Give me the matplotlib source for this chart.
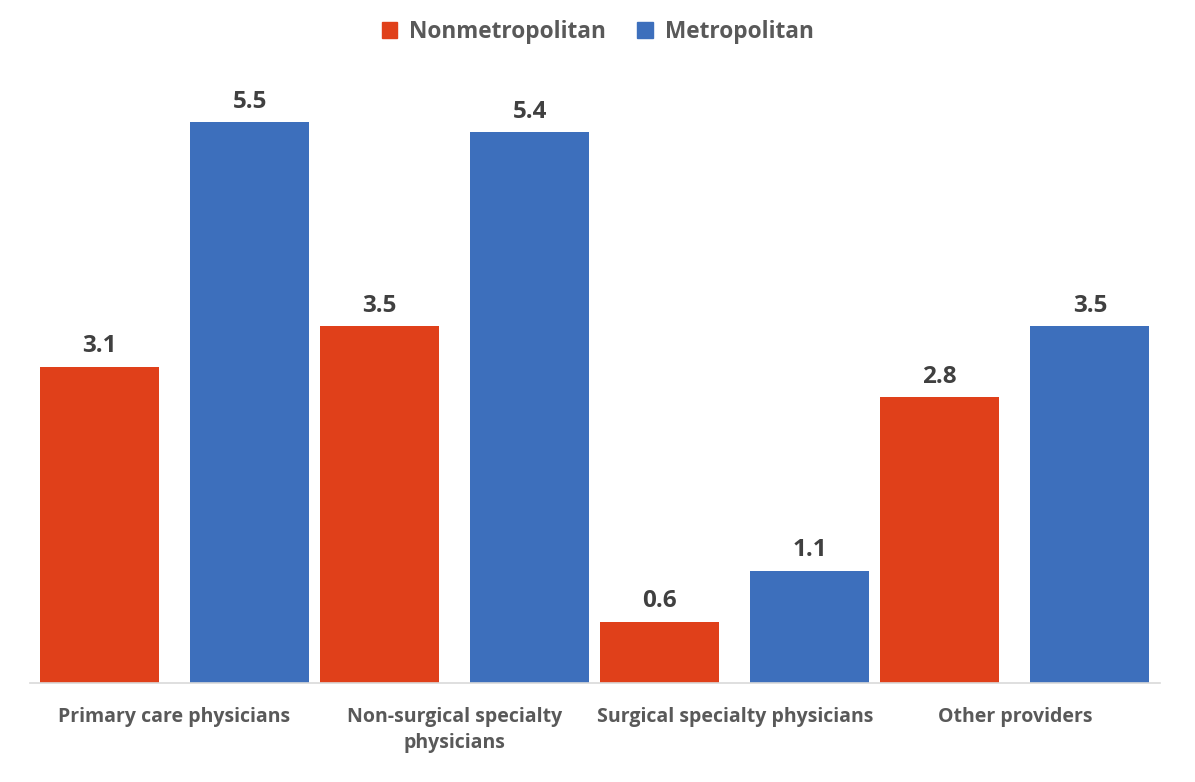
import matplotlib
matplotlib.use("Agg")
import matplotlib.pyplot as plt
from matplotlib.patches import Patch

categories = ["Primary care physicians", "Non-surgical specialty\nphysicians",
              "Surgical specialty physicians", "Other providers"]
series_names = ["Nonmetropolitan", "Metropolitan"]
nonmetro = [3.1, 3.5, 0.6, 2.8]
metro = [5.5, 5.4, 1.1, 3.5]
colors = ["#E0401A", "#3D6FBC"]

plt.rcParams['font.family'] = ['Open Sans', 'DejaVu Sans']
fig = plt.figure(figsize=(11.95, 7.82), dpi=100)
ax = fig.add_axes([30/1195, 1-683/782, 1130/1195, 612/782])

w = 0.425
off = 0.268
xs = list(range(len(categories)))
for vals, sgn, col in [(nonmetro, -1, colors[0]), (metro, 1, colors[1])]:
    pos = [x + sgn*off for x in xs]
    bars = ax.bar(pos, vals, width=w, color=col)
    for b, v in zip(bars, vals):
        ax.annotate(f"{v:.1f}", (b.get_x()+b.get_width()/2, v), xytext=(0, 6),
                    textcoords="offset points", ha="center", va="bottom",
                    fontsize=17.5, fontweight="bold", color="#404040")

ax.set_xlim(-0.516, 3.518)
ax.set_ylim(0, 6)
ax.set_yticks([])
ax.set_xticks(xs)
ax.set_xticklabels(categories, fontsize=14, fontweight="bold", color="#595959",
                   linespacing=1.4)
ax.tick_params(axis="x", length=0, pad=17)
for s in ["top", "right", "left"]:
    ax.spines[s].set_visible(False)
ax.spines["bottom"].set_color("#D9D9D9")
ax.spines["bottom"].set_linewidth(1.2)

handles = [Patch(color=c, label=n) for c, n in zip(colors, series_names)]
fig.legend(handles=handles, loc="center", bbox_to_anchor=(0.5, 1-32/782), ncol=2,
           frameon=False, prop={"size": 16.3, "weight": "bold"}, labelcolor="#595959",
           handlelength=0.7, handleheight=0.7, columnspacing=1.4, handletextpad=0.5)

fig.savefig("out.png", dpi=100)
